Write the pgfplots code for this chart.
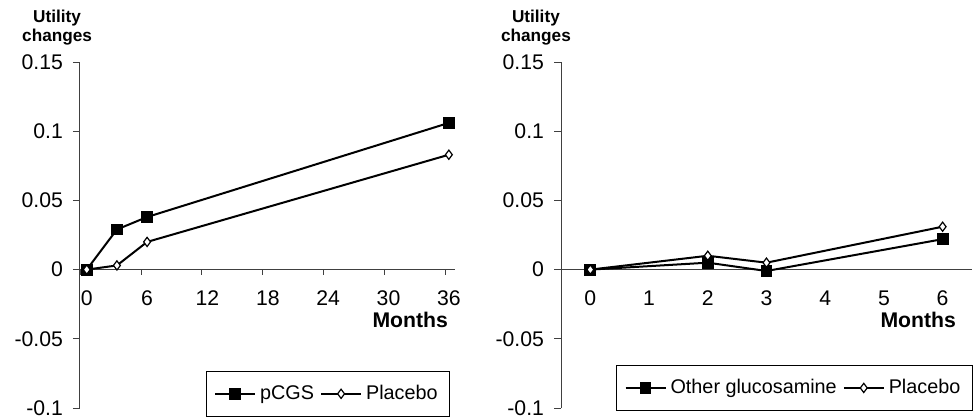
\documentclass[border=0pt]{standalone}
\usepackage{pgfplots}
\pgfplotsset{compat=1.18}
\usepackage{fontspec}
\setmainfont{Liberation Sans}
\begin{document}
\begin{tikzpicture}
\path[use as bounding box] (0,0) rectangle (488pt,-209pt);
\pgfplotsset{
 common/.style={
  scale only axis, height=173pt,
  ymin=-0.1, ymax=0.15,
  axis x line*=middle, axis y line*=left,
  axis line style={line width=0.5pt, color=black!75},
  ytick={-0.1,-0.05,0,0.05,0.1,0.15},
  yticklabels={-0.1,-0.05,0,0.05,0.1,0.15},
  /pgf/number format/assume math mode=true,
  tick align=outside,
  major tick length=3.5pt,
  minor tick length=2.5pt,
  ytick style={line width=0.5pt, color=black!75},
  major x tick style={draw=none},
  minor x tick style={line width=0.5pt, color=black!75},
  tick label style={font=\fontsize{10.6}{12}\selectfont},
  yticklabel style={xshift=-1.5pt},
  xticklabel style={yshift=-3.5pt},
  xlabel={Months},
  xlabel style={font=\fontsize{10.6}{13}\selectfont\bfseries, anchor=east},
  ylabel={Utility\\changes},
  ylabel style={rotate=-90, anchor=center, align=center, font=\fontsize{8.6}{9.2}\selectfont\bfseries},
  clip=false,
  legend style={draw=black, line width=0.5pt, font=\fontsize{9.9}{12}\selectfont, legend columns=2, inner xsep=4pt, inner ysep=5pt},
  legend image code/.code={\draw[mark repeat=2,mark phase=2] plot coordinates {(0pt,0pt) (10pt,0pt) (20pt,0pt)};},
  /tikz/every even column/.append style={column sep=1pt},
 },
 sq/.style={black, line width=1pt, mark=square*, mark size=2.7pt, mark options={line width=0.5pt}},
 dm/.style={black, line width=1pt, mark=diamond*, mark size=2.3pt, mark options={fill=white, line width=0.6pt}},
}
\begin{axis}[common,
  at={(40pt,-204pt)}, anchor=south west, width=187.5pt,
  xmin=-0.67, xmax=36.61,
  xtick={0,6,12,18,24,30,36},
  minor xtick={-0.65,5.4,11.45,17.5,23.55,29.6,35.65},
  xlabel style={at={(rel axis cs:1,0.254)}},
  ylabel style={at={(rel axis cs:-0.061,1.1)}},
  legend style={at={(rel axis cs:0.987,-0.026)}, anchor=south east},
]
\addplot[sq] coordinates {(0,0) (3,0.029) (6,0.038) (36,0.106)};
\addplot[dm] coordinates {(0,0) (3,0.003) (6,0.020) (36,0.083)};
\legend{pCGS,Placebo}
\end{axis}
\begin{axis}[common,
  at={(280.5pt,-204pt)}, anchor=south west, width=205.5pt,
  xmin=-0.5, xmax=6.5,
  xtick={0,1,2,3,4,5,6},
  xlabel style={at={(rel axis cs:0.978,0.254)}},
  ylabel style={at={(rel axis cs:-0.061,1.1)}},
  legend style={at={(rel axis cs:1.002,-0.009)}, anchor=south east},
]
\addplot[sq] coordinates {(0,0) (2,0.005) (3,-0.001) (6,0.022)};
\addplot[dm] coordinates {(0,0) (2,0.010) (3,0.005) (6,0.031)};
\legend{Other glucosamine,Placebo}
\end{axis}
\end{tikzpicture}
\end{document}
